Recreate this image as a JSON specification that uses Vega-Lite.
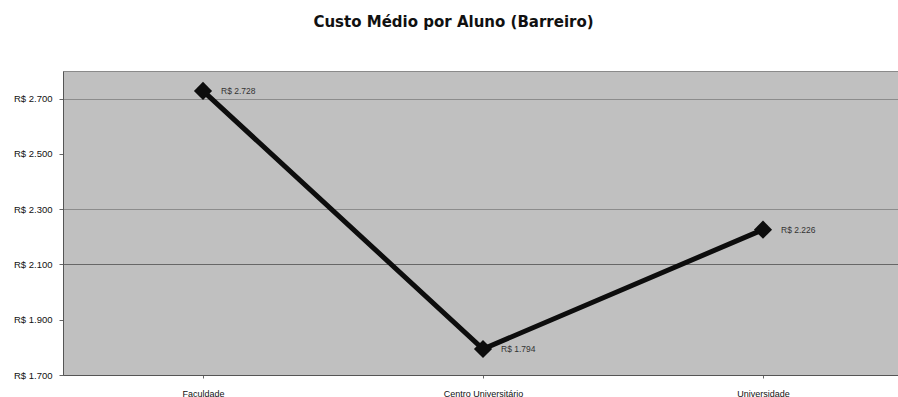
{
  "$schema": "https://vega.github.io/schema/vega-lite/v6.json",
  "autosize": {"type": "none"},
  "width": 835,
  "height": 304,
  "padding": {"left": 63, "top": 71, "right": 0, "bottom": 22},
  "background": "#ffffff",
  "title": {
    "text": "Custo Médio por Aluno (Barreiro)",
    "font": "DejaVu Sans",
    "fontSize": 15,
    "fontWeight": "bold",
    "color": "#111111",
    "anchor": "middle",
    "dx": -27,
    "offset": 41
  },
  "config": {
    "view": {"fill": "#c0c0c0", "stroke": "#8a8a8a", "strokeWidth": 1},
    "axis": {
      "labelFont": "Liberation Sans",
      "labelFontSize": 9.5,
      "labelColor": "#111111",
      "domainColor": "#555555",
      "tickColor": "#666666",
      "title": null
    }
  },
  "data": {
    "values": [
      {"tipo": "Faculdade", "valor": 2728},
      {"tipo": "Centro Universitário", "valor": 1794},
      {"tipo": "Universidade", "valor": 2226}
    ]
  },
  "transform": [
    {"calculate": "'R$ ' + replace(format(datum.valor, ','), ',', '.')", "as": "rotulo"}
  ],
  "encoding": {
    "x": {
      "field": "tipo",
      "type": "nominal",
      "sort": null,
      "scale": {"range": [0, 840], "paddingInner": 0, "paddingOuter": 0},
      "axis": {
        "labelAngle": 0,
        "bandPosition": 0,
        "tickSize": 3,
        "labelPadding": 11,
        "labelBaseline": "top",
        "labelFontSize": 9,
        "grid": false
      }
    },
    "y": {
      "field": "valor",
      "type": "quantitative",
      "scale": {"domain": [1700, 2800], "nice": false, "zero": false},
      "axis": {
        "values": [1700, 1900, 2100, 2300, 2500, 2700],
        "labelExpr": "'R$ ' + replace(format(datum.value, ','), ',', '.')",
        "tickSize": 4,
        "labelPadding": 7,
        "grid": true,
        "gridColor": {
          "condition": {"test": "datum.value === 2100", "value": "#676767"},
          "value": "#8c8c8c"
        },
        "gridOpacity": {
          "condition": {"test": "indexof([2100, 2300, 2700], datum.value) >= 0", "value": 1},
          "value": 0
        }
      }
    }
  },
  "layer": [
    {"mark": {"type": "line", "color": "#0d0d0d", "strokeWidth": 5}},
    {"mark": {"type": "point", "shape": "diamond", "filled": true, "size": 330, "color": "#0d0d0d", "opacity": 1}},
    {
      "mark": {"type": "text", "align": "left", "baseline": "middle", "dx": 18, "font": "Liberation Sans", "fontSize": 8.5, "color": "#333333"},
      "encoding": {"text": {"field": "rotulo"}}
    }
  ]
}
